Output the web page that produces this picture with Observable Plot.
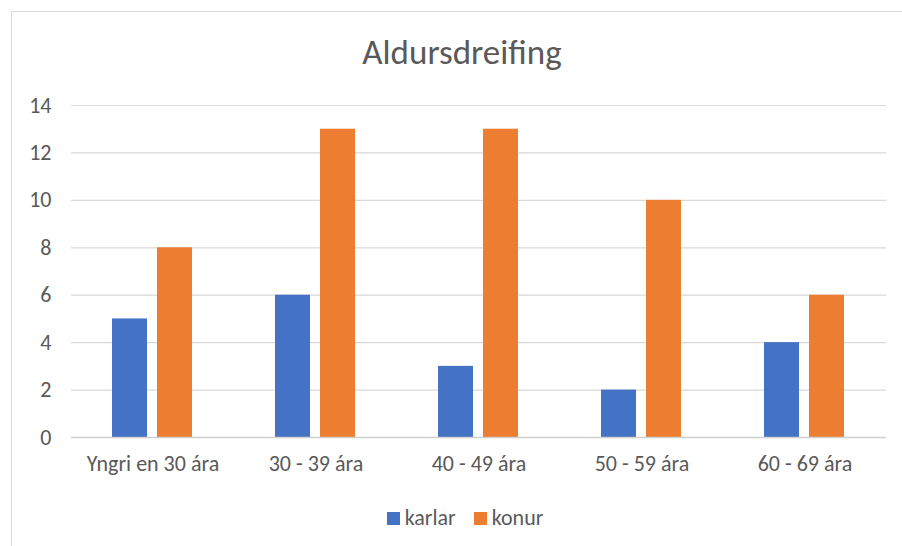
<!DOCTYPE html>
<html>
<head>
<meta charset="utf-8">
<script src="https://cdn.jsdelivr.net/npm/d3@7"></script>
<script src="https://cdn.jsdelivr.net/npm/@observablehq/plot@0.6"></script>
<style>
  html, body { margin: 0; padding: 0; background: #fff; overflow: hidden; width: 902px; height: 546px; }
  body { font-family: Carlito, "Liberation Sans", Arial, sans-serif; color: #595959; position: relative; }
  #frame { position: absolute; left: 11px; top: 11px; width: 902px; height: 560px; border: 1px solid #d9d9d9; box-sizing: border-box; }
  #title { position: absolute; left: 11px; width: 902px; top: 32px; text-align: center; font-size: 35px; line-height: 40px; }
  #chart { position: absolute; left: 0; top: 80px; }
  #legend { position: absolute; left: 0; width: 930px; top: 505px; text-align: center; font-size: 22px; line-height: 26px; }
  #legend span.item { display: inline-block; margin: 0 9px; }
  #legend span.sw { display: inline-block; width: 13px; height: 13px; margin-right: 5px; vertical-align: 0px; }
</style>
</head>
<body>
<div id="frame"></div>
<div id="title">Aldursdreifing</div>
<div id="chart"></div>
<div id="legend"></div>
<script>
const categories = ["Yngri en 30 ára", "30 - 39 ára", "40 - 49 ára", "50 - 59 ára", "60 - 69 ára"];
const seriesNames = ["karlar", "konur"];
const karlar = [5, 6, 3, 2, 4];
const konur = [8, 13, 13, 10, 6];
const colors = ["#4472C4", "#ED7D31"];
const yTicks = [0, 2, 4, 6, 8, 10, 12, 14];

const seriesValues = [karlar, konur];
const rows = categories.flatMap((c, i) =>
  seriesNames.map((s, j) => ({cat: c, series: s, value: seriesValues[j][i]}))
);

const font = 'Carlito, "Liberation Sans", Arial, sans-serif';
const chart = Plot.plot({
  width: 902,
  height: 420,
  marginLeft: 70,
  marginRight: 16,
  marginTop: 25,
  marginBottom: 63,
  style: {fontFamily: font, fontSize: "22px", color: "#595959", background: "transparent"},
  fx: {domain: categories, padding: 0, label: null},
  x: {domain: seriesNames, paddingInner: 0.217, paddingOuter: 0.883, axis: null},
  y: {domain: [0, 14], label: null},
  color: {domain: seriesNames, range: colors},
  marks: [
    Plot.ruleY(yTicks.slice(1), {stroke: "#d9d9d9", strokeWidth: 1.2, strokeOpacity: 1}),
    Plot.barY(rows, {fx: "cat", x: "series", y: "value", fill: "series"}),
    Plot.ruleY([0], {stroke: "#d0d0d0", strokeWidth: 1.5, strokeOpacity: 1}),
    Plot.axisY(yTicks, {tickSize: 0, tickPadding: 20, fontSize: 22, label: null}),
    Plot.axisFx({anchor: "bottom", tickSize: 0, tickPadding: 18, fontSize: 22, label: null})
  ]
});
document.getElementById("chart").appendChild(chart);

const legend = document.getElementById("legend");
seriesNames.forEach((s, i) => {
  const item = document.createElement("span");
  item.className = "item";
  const sw = document.createElement("span");
  sw.className = "sw";
  sw.style.background = colors[i];
  item.appendChild(sw);
  item.appendChild(document.createTextNode(s));
  legend.appendChild(item);
});
</script>
</body>
</html>
